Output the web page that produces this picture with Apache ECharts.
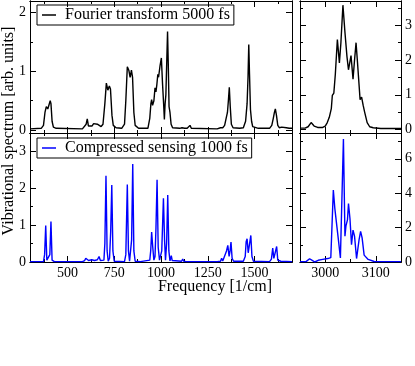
<!DOCTYPE html>
<html lang="en">
<head>
<meta charset="UTF-8">
<title>Vibrational spectrum</title>
<script src="https://cdn.jsdelivr.net/npm/echarts@6/dist/echarts.min.js"></script>
</head>
<body style="margin:0;background:#fff;">
<div id="chart" style="width:415px;height:366px;"></div>
<script type="text/javascript">
// Fourier transform 5000 fs, 300-1700 1/cm
var ftLowFreq = [300, 360, 372, 380, 387, 395, 400, 408, 412, 418, 425, 440, 580, 590, 600, 606, 612, 620, 632, 640, 650, 660, 668, 680, 690, 700, 708, 716, 724, 730, 738, 745, 760, 790, 805, 812, 820, 828, 835, 842, 848, 855, 862, 880, 930, 940, 946, 950, 955, 962, 968, 973, 978, 983, 987, 995, 1002, 1008, 1014, 1018, 1022, 1026, 1031, 1035, 1039, 1043, 1048, 1054, 1062, 1100, 1112, 1119, 1126, 1140, 1150, 1155, 1162, 1300, 1318, 1324, 1330, 1340, 1348, 1355, 1360, 1365, 1370, 1376, 1385, 1420, 1440, 1452, 1460, 1465, 1469, 1473, 1478, 1484, 1490, 1520, 1580, 1592, 1600, 1606, 1611, 1617, 1624, 1632, 1645, 1655, 1670, 1685, 1700];
var ftLowVal = [0.02, 0.03, 0.08, 0.30, 0.40, 0.36, 0.38, 0.50, 0.45, 0.15, 0.05, 0.03, 0.02, 0.03, 0.10, 0.19, 0.07, 0.04, 0.07, 0.11, 0.11, 0.10, 0.12, 0.06, 0.10, 0.45, 0.80, 0.68, 0.75, 0.70, 0.25, 0.08, 0.04, 0.03, 0.10, 0.50, 1.08, 1.02, 0.90, 1.02, 0.90, 0.30, 0.08, 0.03, 0.03, 0.20, 0.45, 0.52, 0.42, 0.50, 0.72, 0.65, 0.78, 0.95, 0.90, 1.10, 1.23, 0.80, 0.45, 0.18, 0.45, 0.60, 1.20, 1.68, 1.10, 0.40, 0.30, 0.10, 0.04, 0.03, 0.04, 0.07, 0.03, 0.03, 0.05, 0.08, 0.03, 0.02, 0.04, 0.06, 0.04, 0.08, 0.20, 0.30, 0.50, 0.73, 0.40, 0.10, 0.04, 0.03, 0.04, 0.15, 0.45, 0.90, 1.46, 0.95, 0.35, 0.15, 0.06, 0.03, 0.03, 0.08, 0.20, 0.30, 0.36, 0.25, 0.08, 0.04, 0.05, 0.04, 0.04, 0.03, 0.03];

// Compressed sensing 1000 fs, 300-1700 1/cm
var csLowFreq = [300, 372, 378, 384, 390, 400, 406, 412, 418, 430, 580, 585, 592, 598, 606, 613, 620, 630, 638, 645, 652, 660, 669, 676, 685, 695, 700, 706, 712, 718, 725, 731, 737, 743, 750, 805, 812, 820, 826, 832, 838, 843, 849, 855, 862, 890, 940, 945, 950, 956, 962, 968, 973, 979, 985, 992, 998, 1004, 1013, 1019, 1024, 1030, 1036, 1042, 1048, 1055, 1060, 1070, 1110, 1116, 1122, 1135, 1300, 1318, 1324, 1330, 1340, 1350, 1357, 1364, 1369, 1374, 1380, 1388, 1440, 1450, 1455, 1460, 1466, 1472, 1480, 1486, 1494, 1580, 1590, 1597, 1603, 1608, 1618, 1624, 1640, 1700];
var csLowVal = [0.01, 0.01, 0.20, 0.99, 0.05, 0.02, 0.20, 1.10, 0.05, 0.01, 0.01, 0.06, 0.04, 0.10, 0.13, 0.04, 0.02, 0.06, 0.10, 0.04, 0.02, 0.06, 0.15, 0.04, 0.02, 0.05, 0.50, 2.34, 0.30, 0.02, 0.10, 0.80, 2.09, 0.30, 0.02, 0.01, 0.20, 2.10, 0.30, 0.02, 0.05, 0.60, 2.66, 0.30, 0.02, 0.01, 0.05, 0.30, 0.81, 0.40, 0.05, 0.15, 0.90, 2.23, 0.40, 0.05, 0.02, 0.30, 1.73, 0.60, 0.05, 0.50, 1.82, 0.30, 0.03, 0.17, 0.04, 0.01, 0.02, 0.08, 0.02, 0.01, 0.01, 0.02, 0.10, 0.03, 0.08, 0.30, 0.45, 0.15, 0.30, 0.54, 0.10, 0.02, 0.02, 0.15, 0.55, 0.63, 0.25, 0.30, 0.72, 0.15, 0.02, 0.01, 0.08, 0.38, 0.10, 0.10, 0.42, 0.05, 0.02, 0.01];

// Fourier transform 5000 fs, 2950-3150 1/cm
var ftHighFreq = [2950, 2960, 2966, 2972, 2978, 2985, 2995, 3000, 3004, 3008, 3012, 3014, 3017, 3020, 3024, 3028, 3031, 3035, 3039, 3043, 3046, 3051, 3055, 3058, 3061, 3064, 3069, 3072, 3075, 3078, 3083, 3088, 3095, 3110, 3150];
var ftHighVal = [0.04, 0.04, 0.08, 0.20, 0.10, 0.06, 0.06, 0.10, 0.20, 0.35, 0.60, 0.98, 1.05, 1.60, 2.59, 1.92, 2.50, 3.58, 2.80, 2.10, 1.72, 2.13, 1.45, 2.00, 2.50, 1.90, 0.86, 0.93, 0.70, 0.50, 0.20, 0.08, 0.05, 0.03, 0.03];

// Compressed sensing 1000 fs, 2950-3150 1/cm
var csHighFreq = [2950, 2962, 2969, 2975, 2979, 2986, 2995, 3005, 3011, 3016, 3019, 3021, 3026, 3030, 3033, 3036, 3039, 3041, 3044, 3046, 3049, 3052, 3055, 3058, 3062, 3067, 3070, 3073, 3077, 3085, 3097, 3150];
var csHighVal = [0.02, 0.02, 0.19, 0.08, 0.00, 0.10, 0.15, 0.20, 0.25, 4.18, 3.10, 3.05, 1.30, 0.23, 0.30, 7.15, 1.50, 2.10, 2.45, 3.40, 2.50, 1.00, 1.85, 1.50, 0.20, 1.30, 1.78, 1.40, 0.40, 0.15, 0.03, 0.02];

var lowMajor = [500, 750, 1000, 1250, 1500];
var lowMinor = [375, 625, 875, 1125, 1375, 1625];
var highMajor = [3000, 3100];
var highMinor = [3050];

var font = '"Liberation Serif", "Times New Roman", serif';
var seriesNames = ['Fourier transform 5000 fs', 'Compressed sensing 1000 fs'];

function pairs(xs, ys) {
    return xs.map(function (x, i) { return [x, ys[i]]; });
}

var xAxes = [];
var yAxes = [];

function addAxis(list, grid, pos, min, max, ticks, len, labels) {
    list.push({
        type: 'value', gridIndex: grid, position: pos, min: min, max: max,
        splitLine: {show: false},
        axisLine: {show: true, onZero: false, lineStyle: {color: '#000', width: 1}},
        axisTick: {show: true, inside: true, length: len, customValues: ticks, lineStyle: {color: '#000', width: 1}},
        axisLabel: {show: !!labels, customValues: labels || [], fontFamily: font, fontSize: 14, color: '#000', margin: 4,
                    formatter: function (v) { return String(v); }}
    });
    return list.length - 1;
}

// grid: index, x range, y range, ticks, which sides get labels
function panel(g, xr, yr, xMaj, xMin, yMaj, yMin, xLab, yPos) {
    var xi = addAxis(xAxes, g, 'bottom', xr[0], xr[1], xMaj, 6, xLab ? xMaj : null);
    addAxis(xAxes, g, 'bottom', xr[0], xr[1], xMin, 3);
    addAxis(xAxes, g, 'top', xr[0], xr[1], xMaj, 6);
    addAxis(xAxes, g, 'top', xr[0], xr[1], xMin, 3);
    var other = yPos === 'left' ? 'right' : 'left';
    var yi = addAxis(yAxes, g, yPos, yr[0], yr[1], yMaj, 6, yMaj);
    addAxis(yAxes, g, yPos, yr[0], yr[1], yMin, 3);
    addAxis(yAxes, g, other, yr[0], yr[1], yMaj, 6);
    addAxis(yAxes, g, other, yr[0], yr[1], yMin, 3);
    return [xi, yi];
}

var p0 = panel(0, [300, 1700], [-0.05, 2.2], lowMajor, lowMinor, [0, 1, 2], [0.5, 1.5], false, 'left');
var p1 = panel(1, [300, 1700], [0, 3.5], lowMajor, lowMinor, [0, 1, 2, 3], [0.5, 1.5, 2.5], true, 'left');
var p2 = panel(2, [2950, 3150], [-0.1, 3.7], highMajor, highMinor, [0, 1, 2, 3], [0.5, 1.5, 2.5, 3.5], false, 'right');
var p3 = panel(3, [2950, 3150], [0, 7.5], highMajor, highMinor, [0, 2, 4, 6], [1, 3, 5, 7], true, 'right');

function line(name, color, p, data) {
    return {
        name: name, type: 'line', xAxisIndex: p[0], yAxisIndex: p[1],
        data: data, showSymbol: false, symbol: 'none', animation: false,
        lineStyle: {color: color, width: 1.4}, itemStyle: {color: color}
    };
}

function legendBox(name, top) {
    return {
        data: [name], left: 37, top: top, orient: 'vertical',
        icon: 'rect', itemWidth: 14, itemHeight: 1.5,
        borderColor: '#000', borderWidth: 1, borderRadius: 0, padding: [2, 4, 2, 5],
        selectedMode: false,
        textStyle: {fontFamily: font, fontSize: 16, color: '#000', padding: [0, 0, 0, 4]}
    };
}

var chart = echarts.init(document.getElementById('chart'), null, {renderer: 'canvas'});
chart.setOption({
    animation: false,
    textStyle: {fontFamily: font},
    grid: [
        {left: 30, top: 1, width: 262, height: 132},
        {left: 30, top: 133, width: 262, height: 129},
        {left: 300, top: 1, width: 103, height: 132},
        {left: 300, top: 133, width: 103, height: 129}
    ],
    xAxis: xAxes,
    yAxis: yAxes,
    legend: [legendBox(seriesNames[0], 5), legendBox(seriesNames[1], 138)],
    graphic: [
        {type: 'text', x: 9, y: 131, rotation: Math.PI / 2,
         style: {text: 'Vibrational spectrum [arb. units]', font: '16px ' + font, fill: '#000', align: 'center', verticalAlign: 'middle'}},
        {type: 'text', x: 215, y: 287,
         style: {text: 'Frequency [1/cm]', font: '16px ' + font, fill: '#000', align: 'center', verticalAlign: 'middle'}}
    ],
    series: [
        line(seriesNames[0], '#000000', p0, pairs(ftLowFreq, ftLowVal)),
        line(seriesNames[1], '#0000ff', p1, pairs(csLowFreq, csLowVal)),
        line(seriesNames[0], '#000000', p2, pairs(ftHighFreq, ftHighVal)),
        line(seriesNames[1], '#0000ff', p3, pairs(csHighFreq, csHighVal))
    ]
});
</script>
</body>
</html>
